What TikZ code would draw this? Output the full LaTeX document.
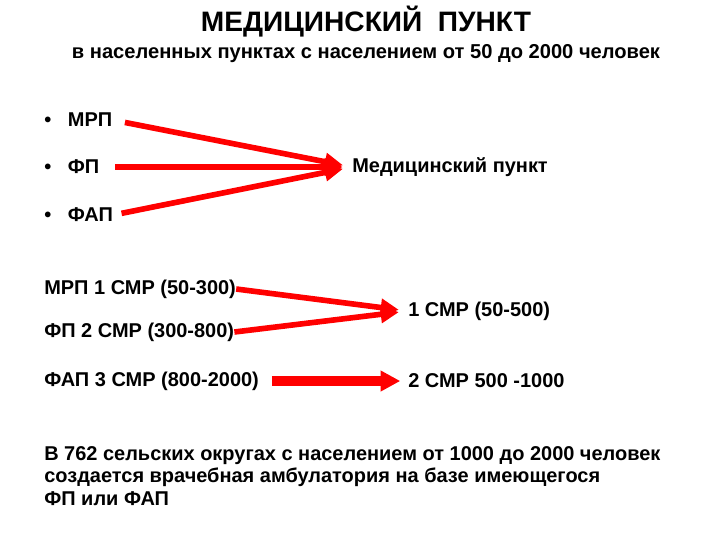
\documentclass[tikz,border=0pt]{standalone}
\usepackage{fontspec}
\setmainfont{Liberation Sans}
\usetikzlibrary{arrows.meta}
\tikzset{
	txt/.style={anchor=west,inner sep=0pt,font=\bfseries\fontsize{14.2}{16}\selectfont},
	redarrow/.style={draw=red,line width=4pt,shorten >=6.5pt,-{Triangle[length=13pt,width=12pt]}},
}
\begin{document}
\begin{tikzpicture}[x=0.025cm,y=-0.025cm]
	\useasboundingbox (0,0) rectangle (720,540);
	% title
	\node[font=\bfseries\fontsize{20}{24}\selectfont,inner sep=0pt](title) at (366,22) {МЕДИЦИНСКИЙ\ \ ПУНКТ};
	\node[font=\bfseries\fontsize{14.3}{16}\selectfont,inner sep=0pt](sub) at (366,54) {в населенных пунктах с населением от 50 до 2000 человек};
	% list
	\node[txt](mrp) at (44,120) {•\ \ \ МРП};
	\node[txt](fp) at (44,167) {•\ \ \ ФП};
	\node[txt](fap) at (44,215) {•\ \ \ ФАП};
	\node[txt](mp) at (352,167) {Медицинский пункт};
	\draw[redarrow,shorten <=9pt] (mrp.east)--(mp.west);
	\draw[redarrow,shorten <=11pt] (fp.east)--(mp.west);
	\draw[redarrow,shorten <=6pt] (fap.east)--(mp.west);
	% groups
	\node[txt](g1) at (44,289) {МРП 1 СМР (50-300)};
	\node[txt](g2) at (44,332) {ФП 2 СМР (300-800)};
	\node[txt](g3) at (44,381) {ФАП 3 СМР (800-2000)};
	\node[txt](r1) at (408,311) {1 СМР (50-500)};
	\node[txt](r2) at (408,381) {2 СМР 500 -1000};
	\draw[redarrow] (g1.east)--(r1.west);
	\draw[redarrow] (g2.east)--(r1.west);
	\draw[redarrow,line width=7pt,shorten <=9pt,shorten >=5.5pt,-{Triangle[length=14pt,width=14pt]}] (g3.east)--(r2.west);
	% note
	\node[txt,align=left,anchor=north west](note) at (44,446) {В 762 сельских округах с населением от 1000 до 2000 человек\\создается врачебная амбулатория на базе имеющегося\\ФП или ФАП};
\end{tikzpicture}
\end{document}
